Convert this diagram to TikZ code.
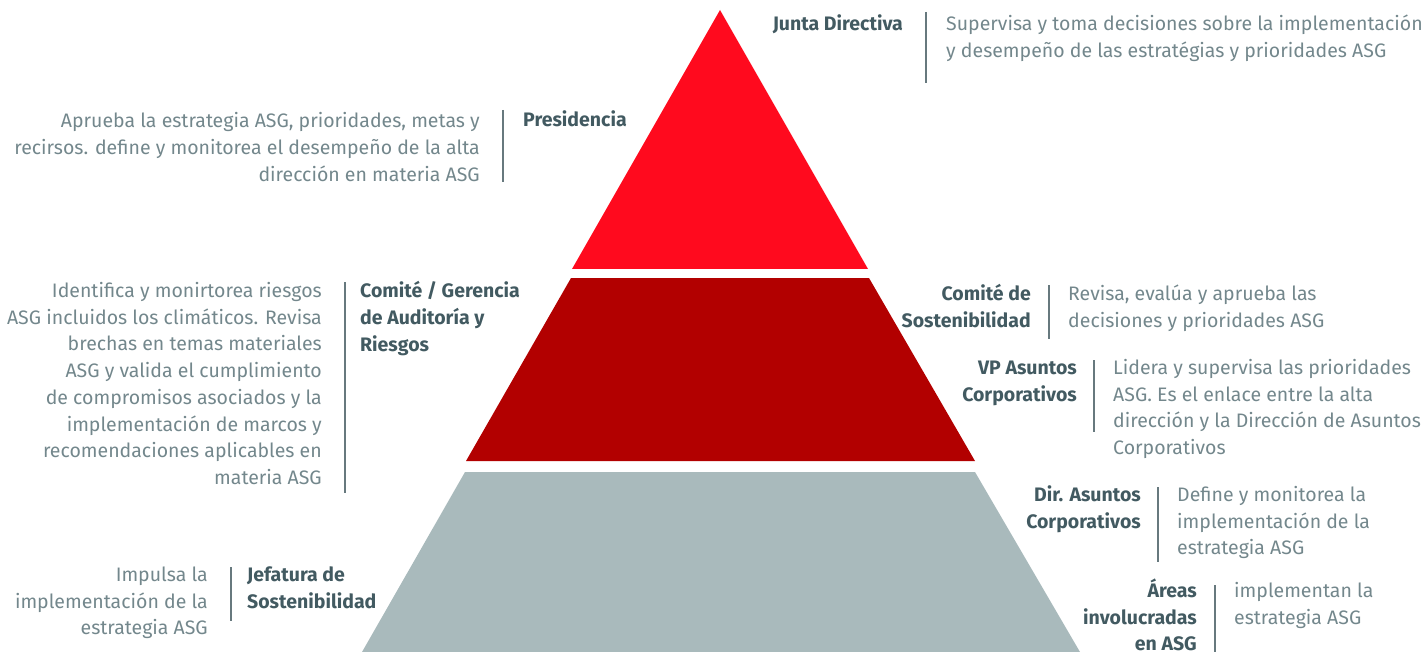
\documentclass[tikz,border=0pt]{standalone}
\usepackage{fontspec}
\setmainfont{Fira Sans}
\usetikzlibrary{positioning}

\definecolor{topred}{RGB}{255,10,30}
\definecolor{midred}{RGB}{178,0,0}
\definecolor{basegray}{RGB}{169,186,188}
\definecolor{rolegray}{RGB}{66,90,97}
\definecolor{dutygray}{RGB}{115,135,140}

\begin{document}
\begin{tikzpicture}[
  x=1pt,y=-1pt,
  role/.style={font=\fontsize{19.5}{26.7}\selectfont\bfseries,text=rolegray,inner sep=0pt},
  duty/.style={font=\fontsize{19.5}{26.7}\selectfont,text=dutygray,inner sep=0pt},
  rule/.style={draw=dutygray!90!black,line width=1.3pt}
]
  \useasboundingbox (0,0) rectangle (1426,652);

  % pyramid bands
  \fill[topred] (720,10) -- (868,269) -- (572,269) -- cycle;
  \fill[midred] (571,278) -- (869,278) -- (975,461) -- (466,461) -- cycle;
  \fill[basegray] (465,472) -- (975,472) -- (1080,652) -- (362,652) -- cycle;

  % right hand roles (nodes sit on the baseline of their last line)
  \node[role,anchor=base east,align=right] (junta) at (903,31) {Junta Directiva};
  \node[duty,anchor=base west,align=left] (juntaTxt) at (946,57.7)
    {Supervisa y toma decisiones sobre la implementación\\
     y desempeño de las estratégias y prioridades ASG};

  \node[role,anchor=base east,align=right] (comite) at (1031,327.2)
    {Comité de\\Sostenibilidad};
  \node[duty,anchor=base west,align=left] (comiteTxt) at (1068,327.2)
    {Revisa, evalúa y aprueba las\\decisiones y prioridades ASG};

  \node[role,anchor=base east,align=right] (vp) at (1077,401.2)
    {VP Asuntos\\Corporativos};
  \node[duty,anchor=base west,align=left] (vpTxt) at (1113,454.6)
    {Lidera y supervisa las prioridades\\
     ASG. Es el enlace entre la alta\\
     dirección y la Dirección de Asuntos\\
     Corporativos};

  \node[role,anchor=base east,align=right] (dir) at (1141,528.2)
    {Dir. Asuntos\\Corporativos};
  \node[duty,anchor=base west,align=left] (dirTxt) at (1177,554.9)
    {Define y monitorea la\\implementación de la\\estrategia ASG};

  \node[role,anchor=base east,align=right] (areas) at (1197,650.9)
    {Áreas\\involucradas\\en ASG};
  \node[duty,anchor=base west,align=left] (areasTxt) at (1234,624.2)
    {implementan la\\estrategia ASG};

  % left hand roles
  \node[role,anchor=base west,align=left] (pres) at (523,127) {Presidencia};
  \node[duty,anchor=base east,align=right] (presTxt) at (480,181.4)
    {Aprueba la estrategia ASG, prioridades, metas y\\
     recirsos. define y monitorea el desempeño de la alta\\
     dirección en materia ASG};

  \node[role,anchor=base west,align=left] (auditoria) at (360,351)
    {Comité / Gerencia\\de Auditoría y\\Riesgos};
  \node[duty,anchor=base east,align=right] (auditoriaTxt) at (322,484.4)
    {Identifica y monirtorea riesgos\\
     ASG incluidos los climáticos. Revisa\\
     brechas en temas materiales\\
     ASG y valida el cumplimiento\\
     de compromisos asociados y la\\
     implementación de marcos y\\
     recomendaciones aplicables en\\
     materia ASG};

  \node[role,anchor=base west,align=left] (jefatura) at (247,608.2)
    {Jefatura de\\Sostenibilidad};
  \node[duty,anchor=base east,align=right] (jefaturaTxt) at (208,634.9)
    {Impulsa la\\implementación de la\\estrategia ASG};

  % dividers
  \foreach \x/\ya/\yb in {926/12/83, 503/110/182, 345/282/493, 1049/285/339,
                          1094/360/432, 1158/487/562, 1215/585/652, 231/567/621}
    \draw[rule] (\x,\ya) -- (\x,\yb);
\end{tikzpicture}
\end{document}
